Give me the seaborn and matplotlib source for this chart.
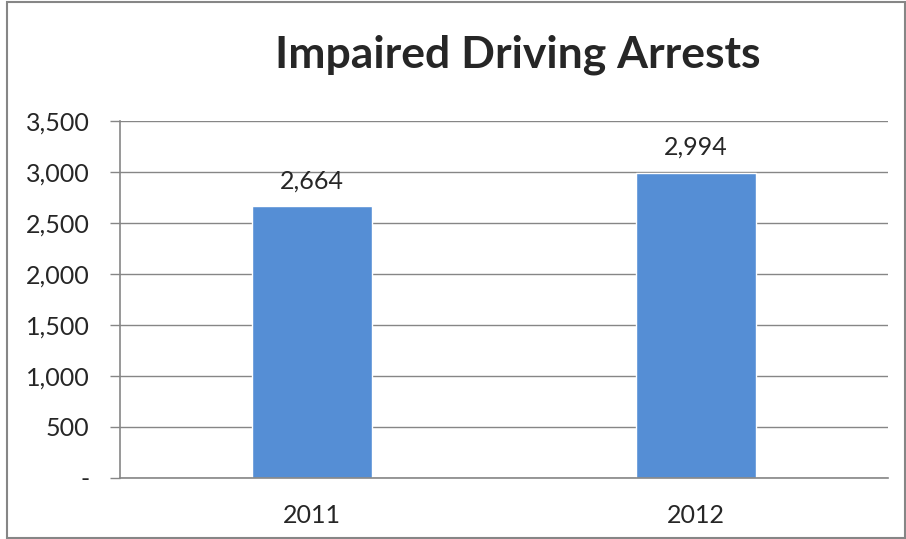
import matplotlib
matplotlib.use("Agg")
import matplotlib.pyplot as plt
import matplotlib.patches as mpatches
from matplotlib.ticker import FuncFormatter, FixedLocator
import seaborn as sns
import pandas as pd

# chart data
years = ["2011", "2012"]
arrests = [2664, 2994]
title = "Impaired Driving Arrests"

df = pd.DataFrame({"year": years, "arrests": arrests})

sns.set_style("white")
plt.rcParams["font.family"] = ["Lato", "DejaVu Sans"]

fig = plt.figure(figsize=(9.06, 5.39), dpi=100)
ax = fig.add_axes([120 / 906, 1 - 478 / 539, 768 / 906, 357 / 539])

sns.barplot(data=df, x="year", y="arrests", color="#558ED5", width=0.31,
            saturation=1, ax=ax)

ax.set_xlim(-0.5, 1.5)
ax.set_ylim(0, 3500)
ax.set_yticks(range(0, 3501, 500))
ax.yaxis.set_major_formatter(FuncFormatter(lambda v, p: "-" if v == 0 else f"{int(v):,}"))
ax.grid(axis="y", color="#868686", linewidth=1)
ax.set_axisbelow(True)

# category-boundary ticks on x
ax.set_xticks([0, 1])
ax.xaxis.set_minor_locator(FixedLocator([-0.5, 0.5, 1.5]))
ax.tick_params(axis="x", which="major", length=0, labelsize=18, pad=19)
ax.tick_params(axis="x", which="minor", length=7, color="#868686", width=1, direction="out")
ax.tick_params(axis="y", length=7, color="#868686", width=1, labelsize=18, pad=15, left=True)
ax.set_xlabel("")
ax.set_ylabel("")

for s in ["top", "right"]:
    ax.spines[s].set_visible(False)
for s in ["left", "bottom"]:
    ax.spines[s].set_color("#868686")
    ax.spines[s].set_linewidth(1.2)

for i, v in enumerate(arrests):
    ax.annotate(f"{v:,}", (i, v), xytext=(0, 10), textcoords="offset points",
                ha="center", va="bottom", fontsize=18)

fig.text(518 / 906, 1 - 55 / 539, title, ha="center", va="center",
         fontsize=32, fontweight="bold")

fig.patches.append(mpatches.Rectangle((7 / 906, 0.002), 898 / 906, 0.994,
                                      transform=fig.transFigure, fill=False,
                                      edgecolor="#868686", linewidth=1.5))

fig.savefig("out.png", dpi=100)
